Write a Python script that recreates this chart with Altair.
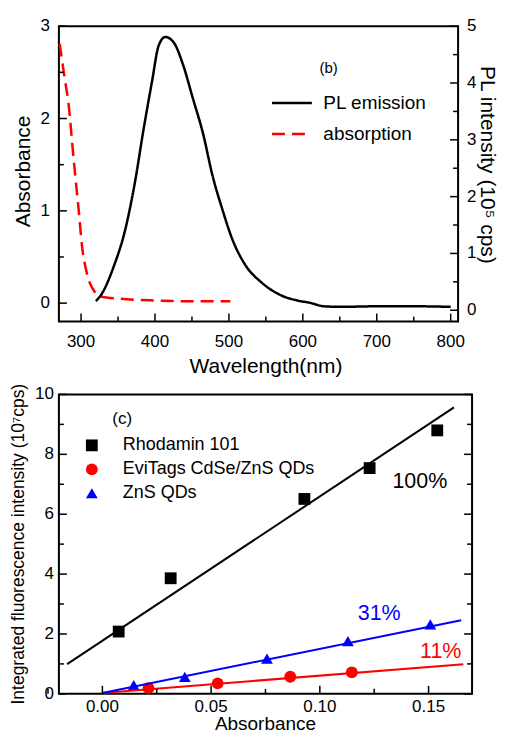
import altair as alt
import pandas as pd

FONT = "Liberation Sans"

# ---------------- Panel (b): PL emission and absorption spectra ----------------
pl_wavelength = [320, 328, 345, 359, 372, 385, 396, 405, 414, 425, 438, 451, 465,
                 478, 491, 504, 522, 544, 571, 593, 610, 628, 650, 703, 747, 800]
pl_intensity = [0.16, 0.29, 0.80, 1.38, 2.19, 3.22, 4.03, 4.66, 4.81, 4.72, 4.32, 3.74, 3.11,
                2.36, 1.78, 1.27, 0.80, 0.49, 0.26, 0.17, 0.13, 0.07, 0.06, 0.07, 0.07, 0.06]

abs_wavelength = [271, 277, 284, 288, 292.5, 297, 301, 308, 317, 328, 350, 394, 460, 502]
absorbance = [2.81, 2.48, 2.09, 1.73, 1.35, 0.99, 0.64, 0.32, 0.14, 0.07, 0.05, 0.03, 0.02, 0.02]

spectra_series = ["PL emission", "absorption"]

b_x_major = [300, 400, 500, 600, 700, 800]
b_x_labels = ["300", "400", "500", "600", "700", "800"]
b_x_minor = [350, 450, 550, 650, 750]
b_yl_major = [0, 1, 2, 3]
b_yl_labels = ["0", "1", "2", "3"]
b_yl_minor = [0.5, 1.5, 2.5]
b_yr_major = [0, 1, 2, 3, 4, 5]
b_yr_labels = ["0", "1", "2", "3", "4", "5"]
b_yr_minor = [0.5, 1.5, 2.5, 3.5, 4.5]

b_x_title = "Wavelength(nm)"
b_yl_title = "Absorbance"
b_yr_title = "PL intensity (10⁵ cps)"

b_note_text = ["(b)"]
b_note_x = [635]
b_note_y = [2.55]

# ---------------- Panel (c): integrated fluorescence vs absorbance ----------------
point_series = ["Rhodamin 101", "EviTags CdSe/ZnS QDs", "ZnS QDs"]
rh_x = [0.0075, 0.0314, 0.0929, 0.1229, 0.154]
rh_y = [2.08, 3.86, 6.51, 7.54, 8.80]
cd_x = [0.0212, 0.053, 0.0864, 0.1147]
cd_y = [0.19, 0.35, 0.57, 0.72]
zn_x = [0.0144, 0.0379, 0.0757, 0.1129, 0.1508]
zn_y = [0.29, 0.57, 1.18, 1.76, 2.32]

rh_fit_x = [-0.0162, 0.1617]
rh_fit_y = [0.99, 9.57]
cd_fit_x = [0.0, 0.166]
cd_fit_y = [0.03, 0.99]
zn_fit_x = [0.0, 0.165]
zn_fit_y = [0.03, 2.46]

c_x_major = [0.0, 0.05, 0.10, 0.15]
c_x_labels = ["0.00", "0.05", "0.10", "0.15"]
c_x_minor = [-0.025, 0.025, 0.075, 0.125]
c_y_major = [0, 2, 4, 6, 8, 10]
c_y_labels = ["0", "2", "4", "6", "8", "10"]
c_y_minor = [1, 3, 5, 7, 9]

c_x_title = "Absorbance"
c_y_title = "Integrated fluorescence intensity (10⁷cps)"

c_note_text = ["(c)", "100%", "31%", "11%"]
c_note_x = [0.0091, 0.146, 0.1273, 0.1556]
c_note_y = [9.19, 7.08, 2.65, 1.40]
c_note_color = ["black", "black", "blue", "red"]

# ---------------- layout constants (page must not overflow 507x754) ----------------
W1, H1 = 400, 296
W2, H2 = 414, 300
TMAJ, TMIN = 8, 5

xb = alt.Scale(domain=[270, 810], nice=False, zero=False)
ybl = alt.Scale(domain=[-0.2, 3], nice=False, zero=False)
ybr = alt.Scale(domain=[-0.2, 5], nice=False, zero=False)
xc = alt.Scale(domain=[-0.02, 0.17], nice=False, zero=False)
yc = alt.Scale(domain=[0, 10], nice=False, zero=False)

ONE = pd.DataFrame({"k": [0]})


# ======================= helpers (ticks, tick labels, titles) =======================
def x_ticks(values, scale, length, height):
    return alt.Chart(pd.DataFrame({"v": values})).mark_rule(
        color="black", strokeWidth=1.5).encode(
        x=alt.X("v:Q", scale=scale, axis=None),
        y=alt.value(height), y2=alt.value(height - length))


def y_ticks(values, scale, length, at_right, width):
    x0 = width if at_right else 0
    x1 = width - length if at_right else length
    return alt.Chart(pd.DataFrame({"v": values})).mark_rule(
        color="black", strokeWidth=1.5).encode(
        y=alt.Y("v:Q", scale=scale, axis=None),
        x=alt.value(x0), x2=alt.value(x1))


def x_labels(values, labels, scale, ypos):
    return alt.Chart(pd.DataFrame({"v": values, "t": labels})).mark_text(
        font=FONT, fontSize=17, color="black", baseline="middle", align="center").encode(
        x=alt.X("v:Q", scale=scale, axis=None), y=alt.value(ypos), text="t:N")


def y_labels(values, labels, scale, xpos, align):
    return alt.Chart(pd.DataFrame({"v": values, "t": labels})).mark_text(
        font=FONT, fontSize=17, color="black", baseline="middle", align=align).encode(
        y=alt.Y("v:Q", scale=scale, axis=None), x=alt.value(xpos), text="t:N")


def title_text(text, xpos, ypos, angle, size, baseline):
    return alt.Chart(ONE).mark_text(
        text=text, font=FONT, fontSize=size, color="black", angle=angle,
        align="center", baseline=baseline).encode(
        x=alt.value(xpos), y=alt.value(ypos))


# ======================= Panel (b) =======================
df_pl = pd.DataFrame({"wl": pl_wavelength, "val": pl_intensity, "series": spectra_series[0]})
df_abs = pd.DataFrame({"wl": abs_wavelength, "val": absorbance, "series": spectra_series[1]})

spec_legend = alt.Legend(
    title=None, orient="none", legendX=212, legendY=66,
    symbolType="stroke", symbolSize=1600, symbolStrokeWidth=2.5,
    labelFontSize=19, labelFont=FONT, labelColor="black",
    labelOffset=10, clipHeight=22, rowPadding=9,
)
spec_color = alt.Color("series:N",
                       scale=alt.Scale(domain=spectra_series, range=["black", "red"]),
                       legend=spec_legend)
spec_dash = alt.StrokeDash("series:N",
                           scale=alt.Scale(domain=spectra_series, range=[[1, 0], [13, 7]]),
                           legend=spec_legend)

abs_line = alt.Chart(df_abs).mark_line(strokeWidth=2.5, interpolate="monotone").encode(
    x=alt.X("wl:Q", scale=xb, axis=None),
    y=alt.Y("val:Q", scale=ybl, axis=None),
    color=spec_color, strokeDash=spec_dash,
)

b_note = alt.Chart(pd.DataFrame({"t": b_note_text, "x": b_note_x, "y": b_note_y})).mark_text(
    font=FONT, fontSize=15, color="black").encode(
    x=alt.X("x:Q", scale=xb, axis=None), y=alt.Y("y:Q", scale=ybl, axis=None), text="t:N")

left_group = alt.layer(
    abs_line,
    x_ticks(b_x_major, xb, TMAJ, H1),
    x_ticks(b_x_minor, xb, TMIN, H1),
    y_ticks(b_yl_major, ybl, TMAJ, False, W1),
    y_ticks(b_yl_minor, ybl, TMIN, False, W1),
    x_labels(b_x_major, b_x_labels, xb, H1 + 20),
    y_labels(b_yl_major, b_yl_labels, ybl, -9, "right"),
    title_text(b_x_title, W1 / 2 + 7.5, H1 + 52, 0, 21, "alphabetic"),
    title_text(b_yl_title, -35, 145.5, 270, 21, "middle"),
    b_note,
)

pl_line = alt.Chart(df_pl).mark_line(strokeWidth=2.5, interpolate="monotone").encode(
    x=alt.X("wl:Q", scale=xb, axis=None),
    y=alt.Y("val:Q", scale=ybr, axis=None),
    color=spec_color, strokeDash=spec_dash,
)

right_group = alt.layer(
    pl_line,
    y_ticks(b_yr_major, ybr, TMAJ, True, W1),
    y_ticks(b_yr_minor, ybr, TMIN, True, W1),
    y_labels(b_yr_major, b_yr_labels, ybr, W1 + 9, "left"),
    title_text(b_yr_title, W1 + 29, 139, 90, 21, "middle"),
)

panel_b = alt.layer(left_group, right_group).resolve_scale(
    y="independent").properties(width=W1, height=H1)

# ======================= Panel (c) =======================
df_pts = pd.concat([
    pd.DataFrame({"x": rh_x, "y": rh_y, "series": point_series[0]}),
    pd.DataFrame({"x": cd_x, "y": cd_y, "series": point_series[1]}),
    pd.DataFrame({"x": zn_x, "y": zn_y, "series": point_series[2]}),
])

pts_legend = alt.Legend(
    title=None, orient="none", legendX=24, legendY=42,
    symbolSize=140, symbolStrokeWidth=0, symbolOpacity=1,
    labelFontSize=18, labelFont=FONT, labelColor="black", labelLimit=400,
    labelOffset=22, rowPadding=6,
)

points = alt.Chart(df_pts).mark_point(filled=True, size=140, opacity=1).encode(
    x=alt.X("x:Q", scale=xc, axis=None),
    y=alt.Y("y:Q", scale=yc, axis=None),
    color=alt.Color("series:N",
                    scale=alt.Scale(domain=point_series, range=["black", "red", "blue"]),
                    legend=pts_legend),
    shape=alt.Shape("series:N",
                    scale=alt.Scale(domain=point_series,
                                    range=["square", "circle", "triangle-up"]),
                    legend=pts_legend),
)

fit_layers = []
for fx, fy, col in [(rh_fit_x, rh_fit_y, "black"), (cd_fit_x, cd_fit_y, "red"),
                    (zn_fit_x, zn_fit_y, "blue")]:
    fit_layers.append(
        alt.Chart(pd.DataFrame({"x": fx, "y": fy})).mark_line(
            strokeWidth=2, color=col).encode(
            x=alt.X("x:Q", scale=xc, axis=None), y=alt.Y("y:Q", scale=yc, axis=None)))

c_notes = []
for t, nx, ny, col in zip(c_note_text, c_note_x, c_note_y, c_note_color):
    c_notes.append(
        alt.Chart(pd.DataFrame({"t": [t], "x": [nx], "y": [ny]})).mark_text(
            font=FONT, fontSize=17 if t == "(c)" else 21.5, color=col).encode(
            x=alt.X("x:Q", scale=xc, axis=None), y=alt.Y("y:Q", scale=yc, axis=None),
            text="t:N"))

panel_c = alt.layer(
    points,
    *fit_layers,
    x_ticks(c_x_major, xc, TMAJ, H2),
    x_ticks(c_x_minor, xc, TMIN, H2),
    y_ticks(c_y_major, yc, TMAJ, False, W2),
    y_ticks(c_y_minor, yc, TMIN, False, W2),
    y_ticks(c_y_major, yc, TMAJ, True, W2),
    y_ticks(c_y_minor, yc, TMIN, True, W2),
    x_labels(c_x_major, c_x_labels, xc, H2 + 13),
    y_labels(c_y_major, c_y_labels, yc, -5, "right"),
    title_text(c_x_title, W2 / 2, H2 + 36, 0, 19, "alphabetic"),
    title_text(c_y_title, -40, H2 / 2, 270, 17.5, "middle"),
    *c_notes,
).properties(width=W2, height=H2)

chart = alt.vconcat(panel_b, panel_c, spacing=73, bounds="flush").resolve_scale(
    color="independent", shape="independent", strokeDash="independent"
).resolve_legend(color="independent", shape="independent", strokeDash="independent"
).properties(padding={"left": 0, "top": 7.5, "right": 0, "bottom": 0}
).configure_view(
    stroke="black", strokeWidth=2
)

chart.save("out.html", embed_options={"renderer": "svg", "actions": False})
